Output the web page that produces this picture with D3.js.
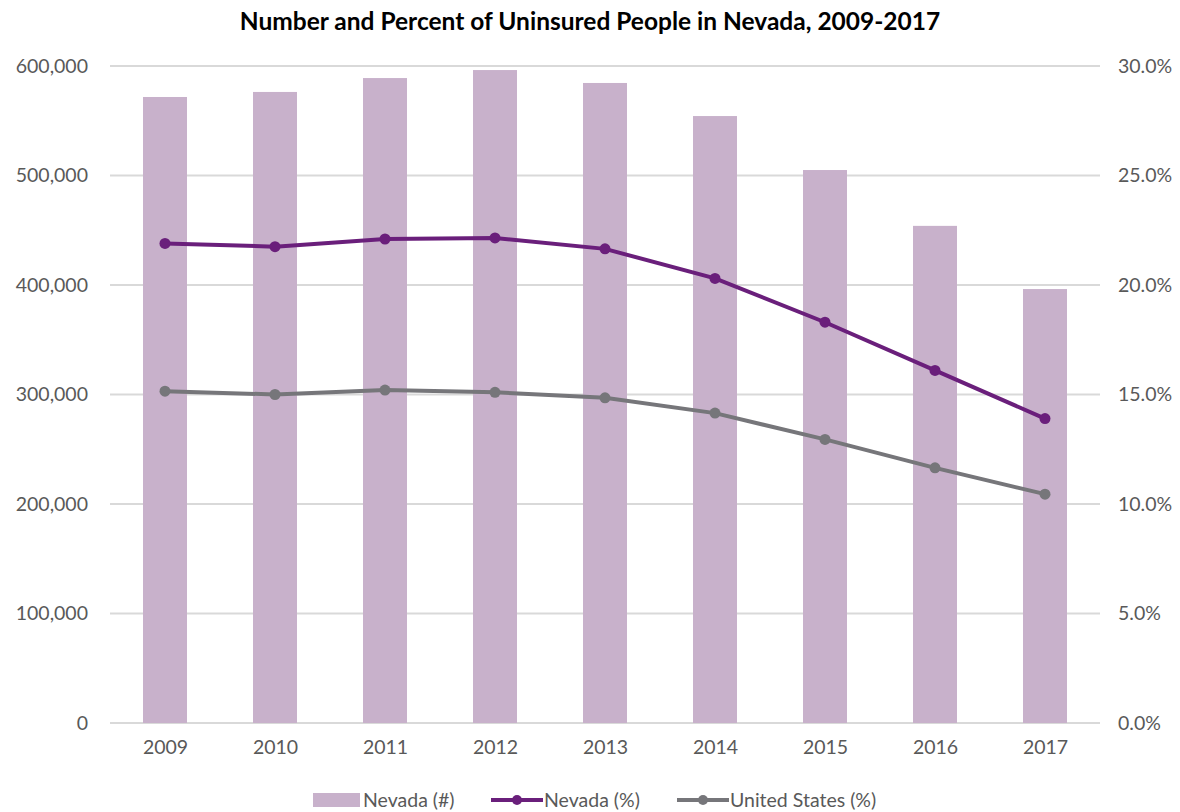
<!doctype html>
<html>
<head>
  <script src="https://cdnjs.cloudflare.com/ajax/libs/d3/7.8.5/d3.min.js"></script>
  <style>
    body { margin: 0; background: #fff; }
    text { font-family: Lato, "Open Sans", sans-serif; }
  </style>
</head>
<body>
<svg id="chart" width="1180" height="812"></svg>
<script>
// data
var years = ["2009", "2010", "2011", "2012", "2013", "2014", "2015", "2016", "2017"];
var nevadaCount = [571700, 576300, 589000, 596300, 584500, 554300, 505000, 454000, 396300];
var nevadaPct = [21.9, 21.75, 22.1, 22.15, 21.65, 20.3, 18.3, 16.1, 13.9];
var usPct = [15.15, 15.0, 15.2, 15.1, 14.85, 14.15, 12.95, 11.65, 10.45];
var leftTicks = [0, 100000, 200000, 300000, 400000, 500000, 600000];
var rightTicks = [0, 5, 10, 15, 20, 25, 30];

var svg = d3.select("#chart");
var plotL = 110, plotR = 1100, plotT = 66, plotB = 723;

var x = d3.scalePoint().domain(years).range([plotL, plotR]).padding(0.5);
var yL = d3.scaleLinear().domain([0, 600000]).range([plotB, plotT]);
var yR = d3.scaleLinear().domain([0, 30]).range([plotB, plotT]);
var barW = x.step() * 0.4;

svg.append("text")
  .attr("x", 590).attr("y", 30)
  .attr("text-anchor", "middle")
  .style("font-size", "24.5px").style("font-weight", "bold")
  .style("fill", "#000")
  .text("Number and Percent of Uninsured People in Nevada, 2009-2017");

// gridlines
svg.append("g").selectAll("line")
  .data(leftTicks)
  .enter().append("line")
  .attr("x1", plotL).attr("x2", plotR)
  .attr("y1", d => yL(d)).attr("y2", d => yL(d))
  .style("stroke", "#d9d9d9").style("stroke-width", 2);

// left axis
var leftAxis = d3.axisLeft(yL).tickValues(leftTicks).tickSize(0).tickPadding(22)
  .tickFormat(d => d === 0 ? "0" : d3.format(",")(d));
svg.append("g").attr("transform", "translate(" + plotL + ",0)").call(leftAxis)
  .call(g => g.select(".domain").remove())
  .selectAll("text").style("font-size", "19.5px").style("fill", "#595959");

// right axis
var rightAxis = d3.axisRight(yR).tickValues(rightTicks).tickSize(0).tickPadding(18)
  .tickFormat(d => d3.format(".1f")(d) + "%");
svg.append("g").attr("transform", "translate(" + plotR + ",0)").call(rightAxis)
  .call(g => g.select(".domain").remove())
  .selectAll("text").style("font-size", "19.5px").style("fill", "#595959");

// bars
svg.append("g").selectAll("rect")
  .data(years)
  .enter().append("rect")
  .attr("x", (d, i) => x(d) - barW / 2)
  .attr("width", barW)
  .attr("y", (d, i) => yL(nevadaCount[i]))
  .attr("height", (d, i) => plotB - yL(nevadaCount[i]))
  .style("fill", "#c8b1cb");

// bottom axis
var xAxis = d3.axisBottom(x).tickSize(0).tickPadding(17);
svg.append("g").attr("transform", "translate(0," + plotB + ")").call(xAxis)
  .call(g => g.select(".domain").remove())
  .selectAll("text").style("font-size", "19.5px").style("fill", "#595959");

function drawLine(vals, color) {
  var line = d3.line().x((d, i) => x(years[i])).y(d => yR(d));
  svg.append("path").datum(vals)
    .attr("d", line)
    .style("fill", "none").style("stroke", color).style("stroke-width", 4);
  svg.append("g").selectAll("circle")
    .data(vals)
    .enter().append("circle")
    .attr("cx", (d, i) => x(years[i]))
    .attr("cy", d => yR(d))
    .attr("r", 5.5)
    .style("fill", color);
}
drawLine(usPct, "#76767a");
drawLine(nevadaPct, "#6a1f7b");

// legend
var legend = svg.append("g").attr("transform", "translate(0,800)");
legend.append("rect").attr("x", 313).attr("y", -7).attr("width", 47).attr("height", 14).style("fill", "#c8b1cb");
legend.append("text").attr("x", 363).attr("y", 7).style("font-size", "19.5px").style("fill", "#595959").text("Nevada (#)");

var items = [
  { x: 491, color: "#6a1f7b", label: "Nevada (%)" },
  { x: 677, color: "#76767a", label: "United States (%)" }
];
items.forEach(function (it) {
  legend.append("line").attr("x1", it.x).attr("x2", it.x + 52).attr("y1", 0).attr("y2", 0)
    .style("stroke", it.color).style("stroke-width", 4);
  legend.append("circle").attr("cx", it.x + 26).attr("cy", 0).attr("r", 5).style("fill", it.color);
  legend.append("text").attr("x", it.x + 53).attr("y", 7).style("font-size", "19.5px").style("fill", "#595959").text(it.label);
});
</script>
</body>
</html>
